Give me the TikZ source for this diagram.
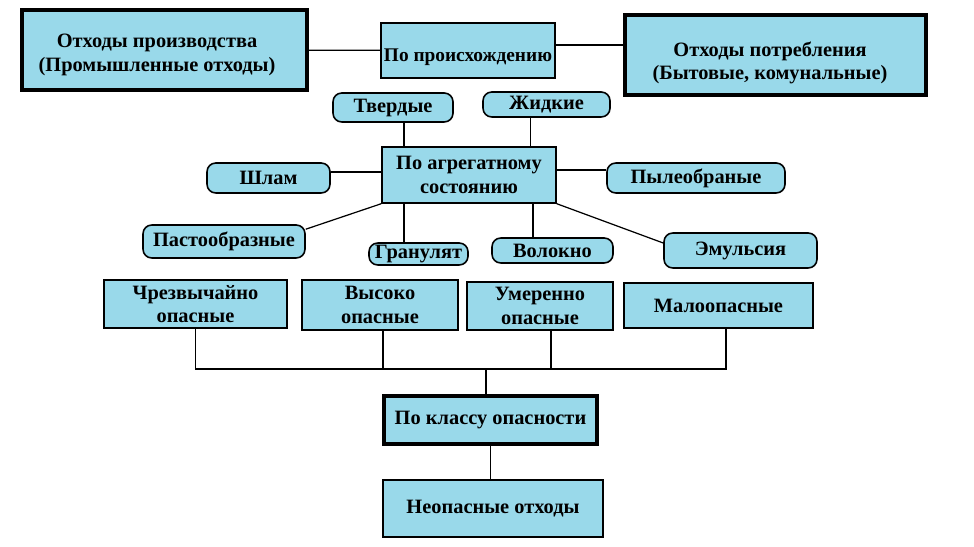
\documentclass[tikz,border=0pt]{standalone}
\usepackage{fontspec}
\setmainfont{Liberation Serif}
\usepackage{xcolor}
\usetikzlibrary{calc}

\definecolor{boxfill}{RGB}{153,217,234}
\newcommand{\pxu}{0.02cm}

\begin{document}
\begin{tikzpicture}[x=0.02cm,y=-0.02cm,
  txt/.style={align=center,inner sep=0pt,font=\fontsize{11.6}{13.5}\selectfont\bfseries},
  box/.style={txt,draw,fill=boxfill,line width=0.8pt,inner sep=1pt},
  thickbox/.style={box,line width=2.4pt},
  pill/.style={box,rounded corners=5pt,line width=0.9pt},
  sz/.style 2 args={minimum width=#1*\pxu,minimum height=#2*\pxu},
  link/.style={line width=0.7pt}]
\useasboundingbox (0,0) rectangle (974,547);
% origin
\node[thickbox,sz={285}{80}] (prod) at (164.5,50) {};
\node[txt] (prodT) at (157,55) {Отходы производства\\(Промышленные отходы)};
\node[box,sz={174}{55}] (orig) at (468,50.5) {};
\node[txt,font=\fontsize{11}{13}\selectfont\bfseries] (origT) at (468,57) {По происхождению};
\node[thickbox,sz={301}{80}] (cons) at (775.5,55) {};
\node[txt] (consT) at (770,63) {Отходы потребления\\(Бытовые, комунальные)};
\draw[link] (prod) -- (orig);
\draw[link] ([yshift=5.5*\pxu]orig.east) -- ([yshift=5.5*\pxu]orig.east -| cons.west);
% aggregate state
\node[box,sz={174}{56}] (aggr) at (469,175) {По агрегатному\\состоянию};
\node[pill,sz={120}{29}] (solid) at (393,107.5) {Твердые};
\node[pill,sz={127}{25}] (liquid) at (546.5,104.5) {Жидкие};
\node[pill,sz={123}{30}] (sludge) at (268.5,178) {Шлам};
\node[pill,sz={178}{30}] (dust) at (696,178) {Пылеобраные};
\node[pill,sz={162}{33}] (paste) at (224,241.5) {Пастообразные};
\node[pill,sz={99}{22},inner sep=0pt] (gran) at (418.5,254) {Гранулят};
\node[pill,sz={121}{25}] (fiber) at (552.5,250.5) {Волокно};
\node[pill,sz={153}{35}] (emul) at (740.5,250.5) {Эмульсия};
\draw[link] ([xshift=11*\pxu]solid.south) -- ([xshift=11*\pxu]solid.south |- aggr.north);
\draw[link] ([xshift=-16*\pxu]liquid.south) -- ([xshift=-16*\pxu]liquid.south |- aggr.north);
\draw[link] ([yshift=6*\pxu]sludge.east) -- ([yshift=6*\pxu]sludge.east -| aggr.west);
\draw[link] ([yshift=5*\pxu]aggr.east) -- ([yshift=5*\pxu]aggr.east -| dust.west);
\draw[link] (aggr.south west) -- ([yshift=-5*\pxu]paste.north east);
\draw[link] ([xshift=-14.5*\pxu]gran.north) -- ([xshift=-14.5*\pxu]gran.north |- aggr.south);
\draw[link] ([xshift=-19.5*\pxu]fiber.north) -- ([xshift=-19.5*\pxu]fiber.north |- aggr.south);
\draw[link] (aggr.south east) -- ([yshift=7.5*\pxu]emul.west);
% hazard class
\node[box,sz={183}{48}] (ext) at (195.5,304) {Чрезвычайно\\опасные};
\node[box,sz={156}{50}] (high) at (380,305) {Высоко\\опасные};
\node[box,sz={146}{48}] (mod) at (540,306) {Умеренно\\опасные};
\node[box,sz={189}{45}] (low) at (718.5,305.5) {Малоопасные};
\node[thickbox,sz={213}{48}] (cls) at (490.5,420) {По классу опасности};
\node[box,sz={220}{57}] (safe) at (493,508.5) {Неопасные отходы};
\coordinate (bus) at (486,369);
\draw[link] (ext.south) |- (bus) -| ([xshift=7.5*\pxu]low.south);
\draw[link] ([xshift=3*\pxu]high.south) -- ([xshift=3*\pxu]high.south |- bus);
\draw[link] ([xshift=11*\pxu]mod.south) -- ([xshift=11*\pxu]mod.south |- bus);
\draw[link] (bus) -- (bus |- cls.north);
\draw[link] (cls.south) -- (cls.south |- safe.north);
\end{tikzpicture}
\end{document}
